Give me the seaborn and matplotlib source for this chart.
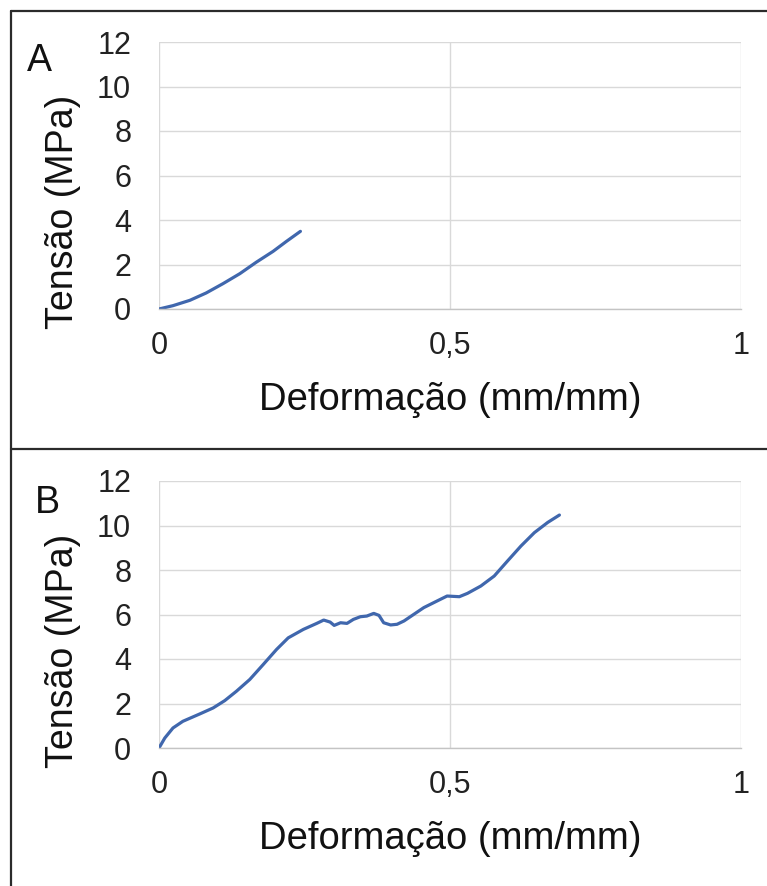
import matplotlib
matplotlib.use("Agg")
import matplotlib.pyplot as plt
from matplotlib.lines import Line2D
import seaborn as sns
import pandas as pd

# Stress-strain curves for the two specimens
strain_a = [0.0, 0.024, 0.053, 0.081, 0.110, 0.139, 0.167, 0.196, 0.219, 0.243]
stress_a = [0.0, 0.15, 0.39, 0.72, 1.14, 1.59, 2.10, 2.59, 3.04, 3.49]

strain_b = [0.0, 0.010, 0.024, 0.041, 0.070, 0.093, 0.113, 0.133, 0.156, 0.179,
            0.202, 0.222, 0.248, 0.271, 0.283, 0.294, 0.301, 0.312, 0.323, 0.334,
            0.346, 0.357, 0.369, 0.378, 0.386, 0.398, 0.409, 0.421, 0.438, 0.455,
            0.478, 0.495, 0.516, 0.530, 0.553, 0.576, 0.599, 0.622, 0.645, 0.668,
            0.688]
stress_b = [0.0, 0.45, 0.90, 1.20, 1.53, 1.80, 2.13, 2.55, 3.08, 3.75,
            4.43, 4.95, 5.33, 5.60, 5.75, 5.66, 5.51, 5.63, 5.60, 5.78,
            5.90, 5.93, 6.05, 5.96, 5.63, 5.53, 5.56, 5.71, 6.01, 6.31,
            6.61, 6.83, 6.80, 6.95, 7.28, 7.73, 8.41, 9.08, 9.68, 10.14,
            10.47]

panel_labels = ["A", "B"]
x_ticks = [0, 0.5, 1]
x_tick_labels = ["0", "0,5", "1"]
y_ticks = [0, 2, 4, 6, 8, 10, 12]
x_title = "Deformação (mm/mm)"
y_title = "Tensão (MPa)"

sns.set_theme(style="white")
plt.rcParams["font.family"] = ["Liberation Sans", "DejaVu Sans"]

W, H = 767, 886
fig = plt.figure(figsize=(W / 100, H / 100), dpi=100)
fig.patch.set_facecolor("white")

def px_rect(left, top, right, bottom):
    return [left / W, 1 - bottom / H, (right - left) / W, (bottom - top) / H]

LINE_COLOR = "#4067ad"
GRID_COLOR = "#d9d9d9"

panels = [
    (pd.DataFrame({"strain": strain_a, "stress": stress_a}), 0),
    (pd.DataFrame({"strain": strain_b, "stress": stress_b}), 439),
]

for (df, dy), label in zip(panels, panel_labels):
    ax = fig.add_axes(px_rect(159, 42 + dy, 741, 309 + dy))
    sns.lineplot(data=df, x="strain", y="stress", ax=ax, sort=False,
                 color=LINE_COLOR, linewidth=2.3, estimator=None)
    ax.set_xlim(0, 1)
    ax.set_ylim(0, 12)
    ax.set_xticks(x_ticks)
    ax.set_xticklabels(x_tick_labels)
    ax.set_yticks(y_ticks)
    ax.grid(True, color=GRID_COLOR, linewidth=1.0)
    ax.set_axisbelow(True)
    for side in ["top", "right", "left"]:
        ax.spines[side].set_visible(False)
    ax.spines["bottom"].set_color("#c4c4c4")
    ax.spines["bottom"].set_linewidth(1.0)
    ax.tick_params(axis="both", length=0, labelsize=22, colors="#222222")
    ax.tick_params(axis="y", pad=20)
    ax.tick_params(axis="x", pad=16)
    ax.set_xlabel("")
    ax.set_ylabel("")

    fig.text(450 / W, 1 - (400 + dy) / H, x_title, ha="center", va="center",
             fontsize=27.5, color="#111111")
    fig.text(63 / W, 1 - (212 + dy) / H, y_title, ha="center", va="center",
             rotation=90, fontsize=27, color="#111111")
    lx = 39 if label == "A" else 47
    fig.text(lx / W, 1 - (61 + dy + (3 if label == "B" else 0)) / H, label,
             ha="center", va="center", fontsize=27, color="#111111")

# Frame lines around the two panels
frame_kw = dict(color="#2b2b2b", linewidth=1.6, transform=fig.transFigure)
fig.add_artist(Line2D([11 / W, 11 / W], [1 - 11 / H, 0], **frame_kw))
fig.add_artist(Line2D([11 / W, 1], [1 - 11 / H, 1 - 11 / H], **frame_kw))
fig.add_artist(Line2D([11 / W, 1], [1 - 449 / H, 1 - 449 / H], **frame_kw))

fig.savefig("out.png", dpi=100, facecolor="white")
